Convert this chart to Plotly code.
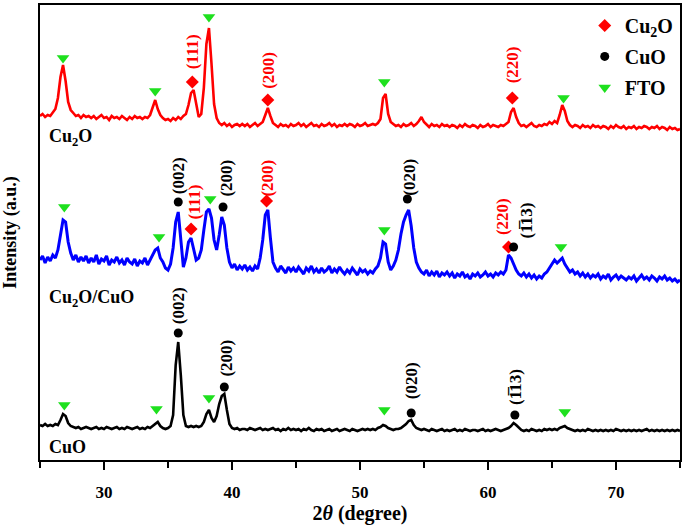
import numpy as np
import plotly.graph_objects as go

# 2-theta sampling grid (degrees), step 0.2
two_theta = np.round(np.arange(25.0, 75.0001, 0.2), 1)

# Intensities (a.u.), one row per 2 degrees
cuo_int = [
    35, 34, 36, 34, 35, 34, 36, 35, 40, 46,
    44, 37, 34, 33, 32, 33, 31, 32, 33, 32,
    31, 32, 33, 31, 32, 31, 33, 32, 31, 32,
    33, 31, 32, 31, 33, 32, 31, 32, 33, 31,
    32, 31, 33, 32, 34, 36, 38, 34, 32, 31,
    32, 34, 45, 95, 118, 85, 45, 34, 33, 34,
    33, 34, 33, 34, 38, 46, 50, 42, 38, 44,
    56, 64, 66, 50, 36, 32, 31, 32, 30, 31,
    31, 30, 32, 31, 30, 31, 32, 30, 31, 30,
    31, 32, 30, 31, 29, 31, 30, 32, 30, 31,
    30, 31, 29, 31, 30, 32, 30, 29, 31, 30,
    31, 29, 30, 31, 29, 30, 31, 29, 30, 31,
    30, 29, 31, 30, 29, 30, 31, 30, 31, 30,
    31, 30, 32, 33, 35, 34, 32, 31, 30, 31,
    31, 32, 34, 36, 39, 40, 35, 32, 31, 30,
    31, 30, 29, 31, 30, 29, 30, 31, 29, 30,
    29, 30, 31, 29, 30, 29, 31, 30, 29, 30,
    30, 29, 30, 31, 29, 30, 29, 30, 31, 30,
    29, 30, 31, 32, 34, 37, 35, 32, 30, 29,
    30, 29, 31, 30, 29, 30, 29, 31, 30, 31,
    30, 31, 30, 32, 33, 34, 32, 31, 30, 29,
    30, 29, 30, 29, 31, 30, 29, 30, 29, 30,
    29, 30, 29, 30, 29, 31, 30, 29, 30, 29,
    30, 29, 30, 29, 30, 29, 30, 31, 29, 30,
    29, 30, 29, 30, 29, 30, 29, 30, 29, 30,
    29,
]

mix_int = [
    50, 54, 47, 53, 49, 55, 52, 60, 75, 90,
    88, 68, 57, 50, 55, 48, 53, 49, 54, 47,
    52, 48, 55, 46, 51, 49, 54, 45, 50, 48,
    53, 47, 50, 45, 52, 48, 46, 51, 44, 49,
    47, 52, 45, 50, 55, 60, 62, 52, 48, 42,
    40, 46, 62, 88, 98, 70, 43, 52, 68, 72,
    62, 50, 52, 60, 80, 98, 101, 92, 70, 60,
    75, 93, 85, 62, 48, 42, 46, 40, 44, 41,
    45, 40, 43, 39, 44, 41, 52, 70, 95, 100,
    72, 48, 42, 38, 44, 40, 37, 43, 39, 42,
    38, 43, 40, 36, 42, 39, 44, 38, 41, 37,
    42, 38, 40, 44, 37, 41, 38, 43, 39, 36,
    40, 37, 42, 38, 35, 41, 38, 40, 36, 39,
    37, 41, 44, 52, 68, 66, 48, 40, 44, 50,
    60, 76, 88, 95, 100, 84, 62, 48, 42, 38,
    36, 40, 34, 38, 35, 39, 33, 37, 35, 38,
    34, 37, 32, 36, 34, 38, 33, 35, 31, 36,
    34, 37, 33, 35, 38, 34, 36, 33, 37, 35,
    38, 36, 40, 55, 52, 46, 40, 36, 34, 37,
    33, 36, 32, 35, 31, 34, 32, 36, 38, 42,
    46, 50, 47, 50, 52, 46, 42, 38, 40, 36,
    38, 34, 37, 33, 36, 32, 35, 33, 36, 31,
    34, 32, 36, 30, 33, 35, 31, 34, 32, 30,
    33, 31, 34, 29, 32, 35, 31, 33, 30, 34,
    32, 29, 33, 31, 34, 30, 32, 29, 31, 28,
    30,
]

cu2o_int = [
    44, 46, 43, 45, 44, 47, 51, 62, 83, 95,
    79, 58, 50, 47, 44, 45, 42, 45, 43, 44,
    42, 44, 41, 43, 45, 42, 43, 40, 44, 42,
    43, 41, 44, 42, 40, 43, 41, 44, 42, 43,
    41, 43, 42, 45, 52, 60, 51, 45, 42, 40,
    41, 39, 42, 40, 43, 41, 44, 46, 55, 67,
    70, 55, 43, 46, 72, 116, 132, 96, 56, 42,
    37, 35, 37, 34, 36, 33, 35, 36, 34, 36,
    34, 36, 33, 35, 37, 34, 36, 38, 45, 52,
    44, 37, 35, 33, 36, 34, 35, 33, 36, 34,
    35, 37, 34, 36, 33, 35, 37, 34, 35, 33,
    36, 34, 35, 37, 34, 36, 33, 35, 34, 36,
    34, 36, 35, 33, 36, 34, 35, 37, 34, 35,
    36, 35, 37, 41, 62, 66, 46, 38, 36, 34,
    35, 33, 36, 34, 35, 37, 34, 36, 39, 43,
    38, 35, 33, 36, 34, 35, 33, 36, 34, 35,
    33, 35, 34, 32, 35, 33, 36, 34, 33, 35,
    34, 32, 35, 33, 34, 36, 33, 35, 34, 33,
    35, 34, 36, 38, 48, 52, 43, 37, 34, 35,
    33, 35, 37, 34, 33, 35, 34, 36, 35, 38,
    36, 39, 37, 45, 55, 49, 39, 35, 33, 35,
    34, 32, 35, 33, 34, 32, 35, 33, 34, 32,
    34, 33, 31, 34, 32, 35, 33, 32, 34, 31,
    33, 32, 34, 31, 33, 32, 34, 33, 31, 33,
    32, 34, 31, 33, 32, 30, 33, 31, 32, 30,
    31,
]

series_names = ["CuO", "Cu2O/CuO", "Cu2O"]
series_labels = ["CuO", "Cu<sub>2</sub>O/CuO", "Cu<sub>2</sub>O"]
series_colors = ["#000000", "#0000ff", "#ff0000"]
series_offsets = [0, 150, 300]

# Phase markers: (2theta, intensity) per series
fto_pos = {
    "CuO": ([26.9, 34.1, 38.2, 51.9, 66.0], [55, 51, 62, 50, 48]),
    "Cu2O/CuO": ([26.9, 34.3, 38.3, 51.9, 65.7], [103, 73, 111, 80, 63]),
    "Cu2O": ([26.8, 34.0, 38.2, 51.9, 65.9], [102, 69, 143, 78, 62]),
}
cuo_pos = {
    "CuO": ([35.8, 39.4, 54.0, 62.1], [127, 73, 47, 45]),
    "Cu2O/CuO": ([35.8, 39.3, 53.7, 62.0], [108, 103, 111, 63]),
}
cu2o_pos = {
    "Cu2O/CuO": ([36.8, 42.7, 61.6], [81, 109, 63]),
    "Cu2O": ([36.9, 42.8, 61.9], [78, 60, 62]),
}

# hkl labels: (series, 2theta, height, text, phase)
hkl_labels = [
    ("Cu2O", 36.9, 108, "(111)", "Cu2O"),
    ("Cu2O", 42.8, 90, "(200)", "Cu2O"),
    ("Cu2O", 61.9, 95, "(220)", "Cu2O"),
    ("Cu2O/CuO", 35.8, 134, "(002)", "CuO"),
    ("Cu2O/CuO", 37.0, 108, "(111)", "Cu2O"),
    ("Cu2O/CuO", 39.5, 132, "(200)", "CuO"),
    ("Cu2O/CuO", 42.7, 132, "(200)", "Cu2O"),
    ("Cu2O/CuO", 53.8, 133, "(020)", "CuO"),
    ("Cu2O/CuO", 61.1, 93, "(220)", "Cu2O"),
    ("Cu2O/CuO", 63.0, 90, "(1\u030513)", "CuO"),
    ("CuO", 35.8, 154, "(002)", "CuO"),
    ("CuO", 39.5, 102, "(200)", "CuO"),
    ("CuO", 54.0, 79, "(020)", "CuO"),
    ("CuO", 62.1, 73, "(1\u030513)", "CuO"),
]

FONT = "Liberation Serif"
offset_of = dict(zip(series_names, series_offsets))
intensities = dict(zip(series_names, [cuo_int, mix_int, cu2o_int]))
line_widths = dict(zip(series_names, [2.6, 3.0, 2.6]))

fig = go.Figure()
for name, color in zip(series_names, series_colors):
    y = np.array(intensities[name]) + offset_of[name]
    fig.add_trace(go.Scatter(x=two_theta, y=y, mode="lines", showlegend=False,
                             line=dict(color=color, width=line_widths[name]), hoverinfo="skip"))

def collect(pos):
    xs, ys = [], []
    for name, (px, py) in pos.items():
        xs += px
        ys += [v + offset_of[name] for v in py]
    return xs, ys

x, y = collect(cu2o_pos)
fig.add_trace(go.Scatter(x=x, y=y, mode="markers", name="Cu<sub>2</sub>O", legendgroup="a",
                         marker=dict(symbol="diamond", size=10, color="#ff0000")))
x, y = collect(cuo_pos)
fig.add_trace(go.Scatter(x=x, y=y, mode="markers", name="CuO", legendgroup="b",
                         marker=dict(symbol="circle", size=9, color="#000000")))
x, y = collect(fto_pos)
fig.add_trace(go.Scatter(x=x, y=y, mode="markers", name="FTO", legendgroup="c",
                         marker=dict(symbol="triangle-down", size=11, color="#1ee01e")))

annotations = []
for s, tt, h, txt, phase in hkl_labels:
    annotations.append(dict(x=tt, y=h + offset_of[s], text=txt, textangle=-90,
                            showarrow=False, xref="x", yref="y",
                            font=dict(family=FONT, size=17, weight="bold",
                                      color="#ff0000" if phase == "Cu2O" else "#000000")))
label_heights = [13, 162, 323]
for lab, h in zip(series_labels, label_heights):
    annotations.append(dict(x=25.55, y=h, text=lab, showarrow=False, xanchor="left",
                            xref="x", yref="y",
                            font=dict(family=FONT, size=18, weight="bold", color="#000000")))

fig.update_layout(
    width=685, height=530,
    margin=dict(l=40, r=5, t=5, b=70, autoexpand=False),
    paper_bgcolor="white", plot_bgcolor="white",
    showlegend=True,
    legend=dict(x=0.998, y=0.998, xanchor="right", yanchor="top",
                font=dict(family=FONT, size=20, weight="bold", color="#000000"),
                bgcolor="rgba(0,0,0,0)", tracegroupgap=2, itemwidth=30),
    annotations=annotations,
    font=dict(family=FONT, color="#000000"),
)
fig.update_xaxes(range=[25, 75], showgrid=False, zeroline=False, automargin=False,
                 showline=True, linecolor="black", linewidth=2, mirror=True,
                 ticks="outside", tickvals=[30, 40, 50, 60, 70], ticklen=8, tickwidth=2,
                 tickcolor="black",
                 minor=dict(tickvals=[25, 35, 45, 55, 65, 75], ticks="outside",
                            ticklen=6, tickwidth=2, tickcolor="black"),
                 tickfont=dict(family=FONT, size=17, weight="bold"),
                 ticklabelstandoff=8,
                 title=dict(text="2<i>θ</i> (degree)", standoff=4,
                            font=dict(family=FONT, size=20, weight="bold")))
fig.update_yaxes(range=[0, 455], showgrid=False, zeroline=False, automargin=False,
                 showline=True, linecolor="black", linewidth=2, mirror=True,
                 showticklabels=False, ticks="",
                 title=dict(text="Intensity (a.u.)", standoff=20,
                            font=dict(family=FONT, size=18, weight="bold")))

fig.write_html("out.html", config={"displayModeBar": False},
               post_script="document.body.style.margin='0';document.body.style.overflow='hidden';")
